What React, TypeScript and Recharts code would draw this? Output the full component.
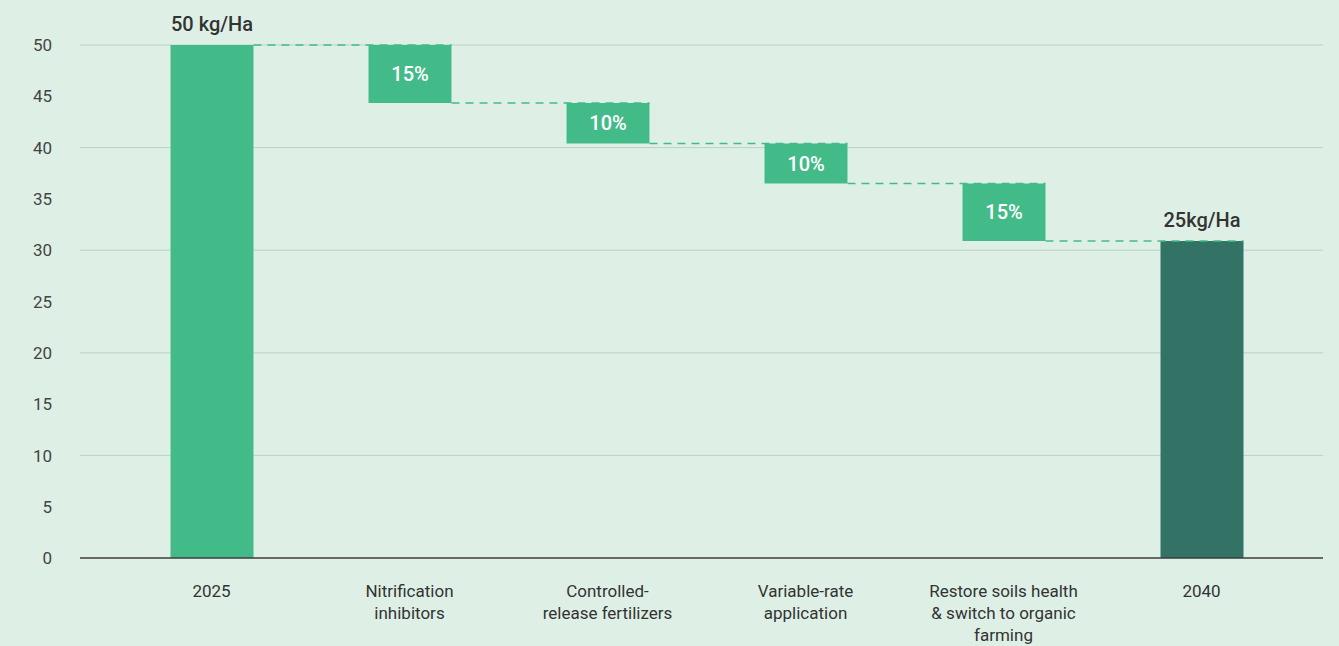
import React from "react";
import { ComposedChart, Bar, XAxis, YAxis, CartesianGrid, LabelList, Cell } from "recharts";

const categories = [
  "2025",
  "Nitrification inhibitors",
  "Controlled-release fertilizers",
  "Variable-rate application",
  "Restore soils health & switch to organic farming",
  "2040",
];
const tickLines = [
  ["2025"],
  ["Nitrification", "inhibitors"],
  ["Controlled-", "release fertilizers"],
  ["Variable-rate", "application"],
  ["Restore soils health", "& switch to organic", "farming"],
  ["2040"],
];
const barLow = [0, 44.35, 40.4, 36.5, 30.9, 0];
const barHigh = [50, 50, 44.35, 40.4, 36.5, 30.9];
const valueLabels = ["50 kg/Ha", "15%", "10%", "10%", "15%", "25kg/Ha"];
const yTicks = [0, 5, 10, 15, 20, 25, 30, 35, 40, 45, 50];
const gridValues = [10, 20, 30, 40, 50];

const GREEN = "#43bb89";
const DARK = "#327366";
const BG = "#def0e6";
const STEP = 198;

const data = categories.map((c, i) => ({
  category: c,
  base: barLow[i],
  delta: barHigh[i] - barLow[i],
  label: valueLabels[i],
}));

const getBox = (props: any) => {
  const vb = props.viewBox && props.viewBox.width !== undefined ? props.viewBox : props;
  return { x: Number(vb.x), y: Number(vb.y), width: Number(vb.width), height: Number(vb.height) };
};

const ValueLabel = (props: any) => {
  const { x, y, width, height } = getBox(props);
  const index = props.index;
  const isTotal = index === 0 || index === data.length - 1;
  if (isTotal) {
    return (
      <text x={x + width / 2} y={y - 14} textAnchor="middle" fill="#333333" fontSize={20} fontWeight={500}>
        {props.value}
      </text>
    );
  }
  return (
    <text x={x + width / 2} y={y + height / 2} dy="0.36em" textAnchor="middle" fill="#ffffff" fontSize={20} fontWeight={500}>
      {props.value}
    </text>
  );
};

const Connector = (props: any) => {
  const { x, y, width, height } = getBox(props);
  const index = props.index;
  if (index >= data.length - 1) return null;
  const ly = index === 0 ? y : y + height;
  return (
    <line x1={x + width} x2={x + width + STEP} y1={ly} y2={ly} stroke={GREEN} strokeWidth={1.5} strokeDasharray="8 6" />
  );
};

const XTick = (props: any) => {
  const { x, y, payload } = props;
  const idx = categories.indexOf(payload.value);
  const lines = tickLines[idx] || [payload.value];
  return (
    <g>
      {lines.map((l, i) => (
        <text key={i} x={x} y={y + 39 + i * 22} textAnchor="middle" fill="#333333" fontSize={17}>
          {l}
        </text>
      ))}
    </g>
  );
};

const YTick = (props: any) => {
  const { x, y, payload } = props;
  return (
    <text x={x} y={y} dy="0.36em" textAnchor="end" fill="#444444" fontSize={17}>
      {payload.value}
    </text>
  );
};

export default function App() {
  return (
    <div
      style={{
        position: "absolute",
        left: 0,
        top: 0,
        width: 1339,
        height: 646,
        background: BG,
        fontFamily: "Roboto, 'Noto Sans', sans-serif",
      }}
    >
      <ComposedChart width={1339} height={646} data={data} margin={{ top: 45, right: 16, bottom: 0, left: 0 }}>
        <CartesianGrid vertical={false} horizontalValues={gridValues} stroke="#bcd0c5" />
        <XAxis
          dataKey="category"
          interval={0}
          height={88}
          padding={{ left: 32.5, right: 22.5 }}
          tickLine={false}
          tickSize={0}
          tickMargin={0}
          axisLine={{ stroke: "#3d3d3d", strokeWidth: 1.5 }}
          tick={<XTick />}
        />
        <YAxis
          width={80}
          domain={[0, 50]}
          ticks={yTicks}
          interval={0}
          axisLine={false}
          tickLine={false}
          tickSize={0}
          tickMargin={28}
          tick={<YTick />}
        />
        <Bar dataKey="base" stackId="w" fill="transparent" barSize={83} isAnimationActive={false} />
        <Bar dataKey="delta" stackId="w" barSize={83} isAnimationActive={false}>
          {data.map((d, i) => (
            <Cell key={i} fill={i === data.length - 1 ? DARK : GREEN} />
          ))}
          <LabelList dataKey="label" content={<Connector />} />
          <LabelList dataKey="label" content={<ValueLabel />} />
        </Bar>
      </ComposedChart>
    </div>
  );
}
